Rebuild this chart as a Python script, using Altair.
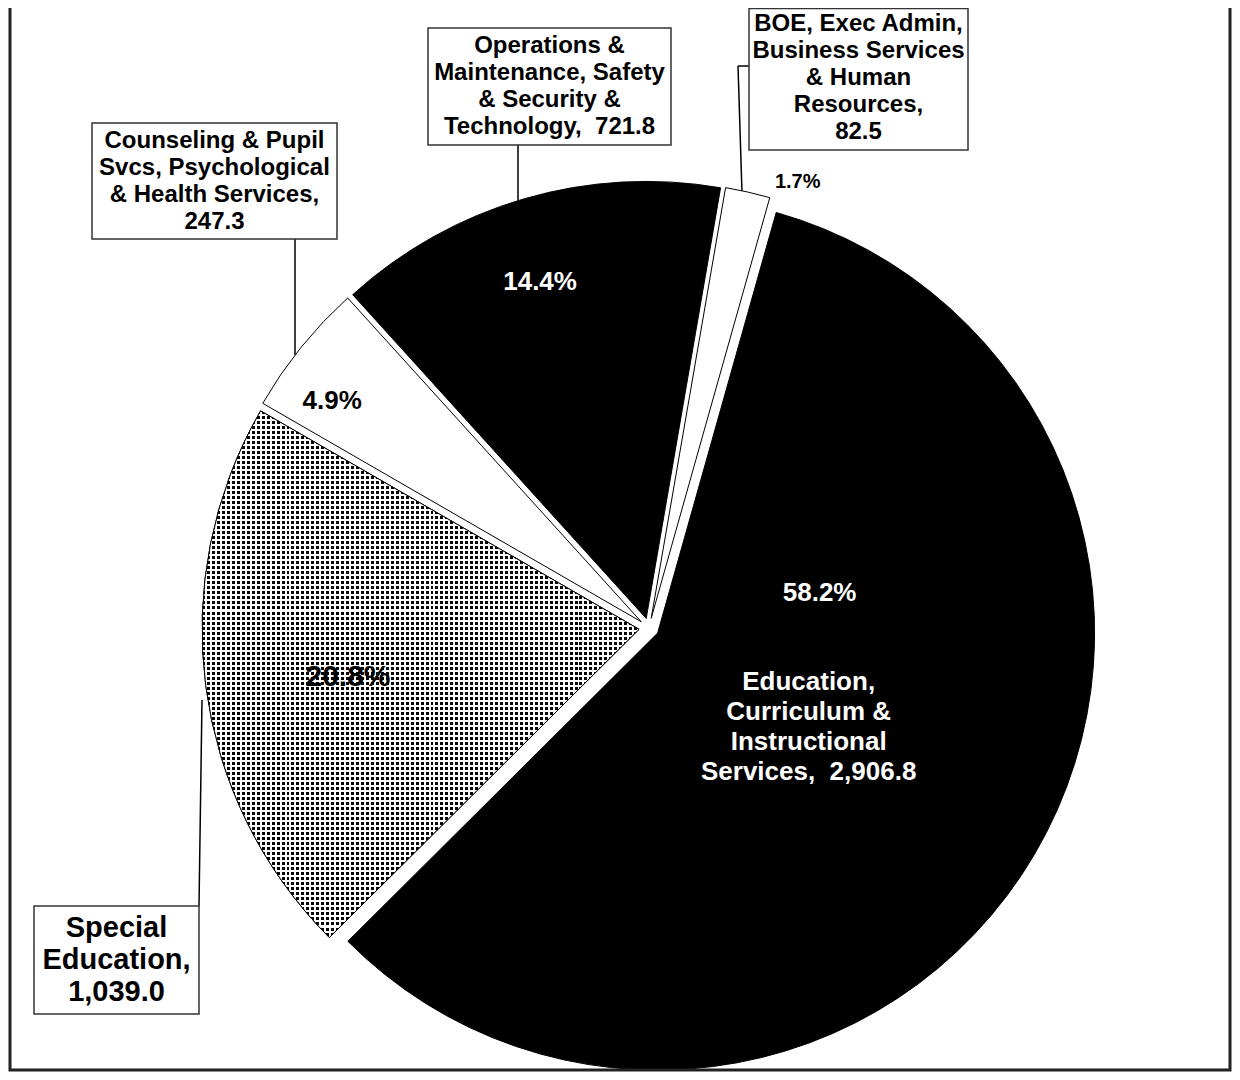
import math
import altair as alt
import pandas as pd

# ---------------- data ----------------
categories = [
    "BOE, Exec Admin, Business Services & Human Resources",
    "Education, Curriculum & Instructional Services",
    "Special Education",
    "Counseling & Pupil Svcs, Psychological & Health Services",
    "Operations & Maintenance, Safety & Security & Technology",
]
values = [82.5, 2906.8, 1039.0, 247.3, 721.8]
name_lines = [
    ["BOE, Exec Admin,", "Business Services", "& Human", "Resources,"],
    ["Education,", "Curriculum &", "Instructional", "Services,"],
    ["Special", "Education,"],
    ["Counseling & Pupil", "Svcs, Psychological", "& Health Services,"],
    ["Operations &", "Maintenance, Safety", "& Security &", "Technology,"],
]
value_on_last_line = [False, True, False, False, True]

# ---------------- styling / layout ----------------
slice_fill = ["white", "black", "black", "white", "black"]
patterned = [False, False, True, False, False]
START_DEG = 9.8
CX, CY, R = 641, 620, 437
EXPLODE = 10
FONT = "Liberation Sans"

pct_label_r = [460, 167, 295, 380, 353]
pct_label_dtheta = [5.8, -44.5, -1.9, -3.3, -1.3]
pct_font = [20, 26, 30, 26, 26]
pct_color = ["black", "white", "black", "black", "white"]

# inside label for the Education slice (polar from slice centre)
inside_r, inside_dtheta = 178, 1.5
inside_font, inside_lh = 26, 30

# callout boxes: [x, y, x2, y2], text centre y, font / line height
boxes = {
    0: dict(box=[741, 0.5, 960, 142], cy=70, font=24, lh=27),
    2: dict(box=[26, 898, 191, 1006], cy=952, font=29, lh=32),
    3: dict(box=[84, 115, 329, 231], cy=173, font=24, lh=27),
    4: dict(box=[420, 20, 663, 137], cy=78.5, font=24, lh=27),
}
leaders = [
    [510, 137, 510, 194],
    [741, 58, 730, 58],
    [730, 58, 734, 185],
    [287, 231, 287, 347],
    [191, 898, 194, 692],
]


def label_text(i):
    v = f"{values[i]:,.1f}"
    lines = list(name_lines[i])
    if value_on_last_line[i]:
        lines[-1] = lines[-1] + "\u00a0 " + v
    else:
        lines.append(v)
    return "\n".join(lines)


df = pd.DataFrame({
    "cat": categories,
    "value": values,
    "order": list(range(len(values))),
    "fill": slice_fill,
    "pattern": patterned,
    "lr": pct_label_r,
    "ldt": pct_label_dtheta,
    "pfont": pct_font,
    "pcolor": pct_color,
    "label": [label_text(i) for i in range(len(values))],
})

edu_lines = label_text(1).count("\n") + 1
start = math.radians(START_DEG)
base = (
    alt.Chart(df)
    .transform_joinaggregate(total="sum(value)")
    .transform_window(cum="sum(value)", sort=[alt.SortField("order")], frame=[None, 0])
    .transform_calculate(
        a0=f"{start} + 2*PI*(datum.cum - datum.value)/datum.total",
        a1=f"{start} + 2*PI*datum.cum/datum.total",
    )
    .transform_calculate(mid="(datum.a0 + datum.a1)/2", pct="datum.value/datum.total")
    .transform_calculate(
        px=f"{CX} + {EXPLODE}*sin(datum.mid)",
        py=f"{CY} - {EXPLODE}*cos(datum.mid)",
    )
    .transform_calculate(
        lx="datum.px + datum.lr*sin(datum.mid + datum.ldt*PI/180)",
        ly="datum.py - datum.lr*cos(datum.mid + datum.ldt*PI/180)",
        ix=f"datum.px + {inside_r}*sin(datum.mid + {inside_dtheta}*PI/180)",
        iy=f"datum.py - {inside_r}*cos(datum.mid + {inside_dtheta}*PI/180) - {(edu_lines - 1) * inside_lh / 2}",
    )
)

arc_enc = dict(
    theta=alt.Theta("a0:Q", scale=None, stack=None),
    theta2=alt.Theta2("a1"),
    x=alt.X("px:Q", scale=None, axis=None),
    y=alt.Y("py:Q", scale=None, axis=None),
)

arcs = base.mark_arc(outerRadius=R, stroke="black", strokeWidth=1).encode(
    fill=alt.Fill("fill:N", scale=None), **arc_enc
)

CLEAR = "rgba(255,255,255,0)"


def stripes(n, frac, along_y):
    stops = []
    for k in range(n):
        o0 = k / n
        o1 = (k + frac) / n
        o2 = 1.0 if k == n - 1 else (k + 1) / n
        stops += [
            {"offset": o0, "color": CLEAR},
            {"offset": o1, "color": CLEAR},
            {"offset": o1, "color": "white"},
            {"offset": o2, "color": "white"},
        ]
    g = {"gradient": "linear", "stops": stops}
    if along_y:
        g.update(x1=0, y1=0, x2=0, y2=1)
    else:
        g.update(x1=0, y1=0, x2=1, y2=0)
    return g


pat_base = base.transform_filter("datum.pattern")
pat_h = pat_base.mark_arc(outerRadius=R, fill=stripes(105, 0.6, True), strokeWidth=0).encode(**arc_enc)
pat_v = pat_base.mark_arc(outerRadius=R, fill=stripes(88, 0.6, False), strokeWidth=0).encode(**arc_enc)
pat_outline = pat_base.mark_arc(
    outerRadius=R, filled=False, stroke="black", strokeWidth=1
).encode(**arc_enc)

pct_text = base.mark_text(font=FONT, fontWeight="bold", align="center", baseline="middle").encode(
    x=alt.X("lx:Q", scale=None, axis=None),
    y=alt.Y("ly:Q", scale=None, axis=None),
    text=alt.Text("pct:Q", format=".1%"),
    size=alt.Size("pfont:Q", scale=None, legend=None),
    color=alt.Color("pcolor:N", scale=None, legend=None),
)

inside_text = (
    base.transform_filter("datum.order == 1")
    .mark_text(font=FONT, fontWeight="bold", fontSize=inside_font, lineHeight=inside_lh,
               lineBreak="\n", color="white", align="center", baseline="middle")
    .encode(
        x=alt.X("ix:Q", scale=None, axis=None),
        y=alt.Y("iy:Q", scale=None, axis=None),
        text="label:N",
    )
)

# callout boxes
box_rows = []
for i, b in boxes.items():
    x, y, x2, y2 = b["box"]
    txt = label_text(i)
    n = txt.count("\n") + 1
    box_rows.append(dict(x=x, y=y, x2=x2, y2=y2, tx=(x + x2) / 2,
                         ty=b["cy"] - (n - 1) * b["lh"] / 2,
                         text=txt, font=b["font"], lh=b["lh"]))
box_df = pd.DataFrame(box_rows)

box_rect = alt.Chart(box_df).mark_rect(fill="white", stroke="#333333", strokeWidth=1.5).encode(
    x=alt.X("x:Q", scale=None, axis=None),
    x2="x2:Q",
    y=alt.Y("y:Q", scale=None, axis=None),
    y2="y2:Q",
)


def box_text(lh):
    return (
        alt.Chart(box_df)
        .transform_filter(f"datum.lh == {lh}")
        .mark_text(font=FONT, fontWeight="bold", lineHeight=lh, lineBreak="\n",
                   align="center", baseline="middle", color="black")
        .encode(
            x=alt.X("tx:Q", scale=None, axis=None),
            y=alt.Y("ty:Q", scale=None, axis=None),
            text="text:N",
            size=alt.Size("font:Q", scale=None, legend=None),
        )
    )


lead_df = pd.DataFrame(leaders, columns=["x", "y", "x2", "y2"])
lead = alt.Chart(lead_df).mark_rule(color="black", strokeWidth=1.5).encode(
    x=alt.X("x:Q", scale=None, axis=None),
    x2="x2:Q",
    y=alt.Y("y:Q", scale=None, axis=None),
    y2="y2:Q",
)

border = alt.Chart(pd.DataFrame({"a": [0]})).mark_rect(
    fillOpacity=0, stroke="#222222", strokeWidth=3
).encode(x=alt.value(2), x2=alt.value(1222), y=alt.value(-20), y2=alt.value(1062))

chart = (
    alt.layer(
        lead, arcs, pat_h, pat_v, pat_outline, pct_text, inside_text,
        box_rect, box_text(27), box_text(32), border,
    )
    .properties(width=1224, height=1064, padding=0, autosize="none")
    .configure_view(stroke=None)
)

chart.save("out.html", embed_options={"renderer": "svg", "actions": False})
